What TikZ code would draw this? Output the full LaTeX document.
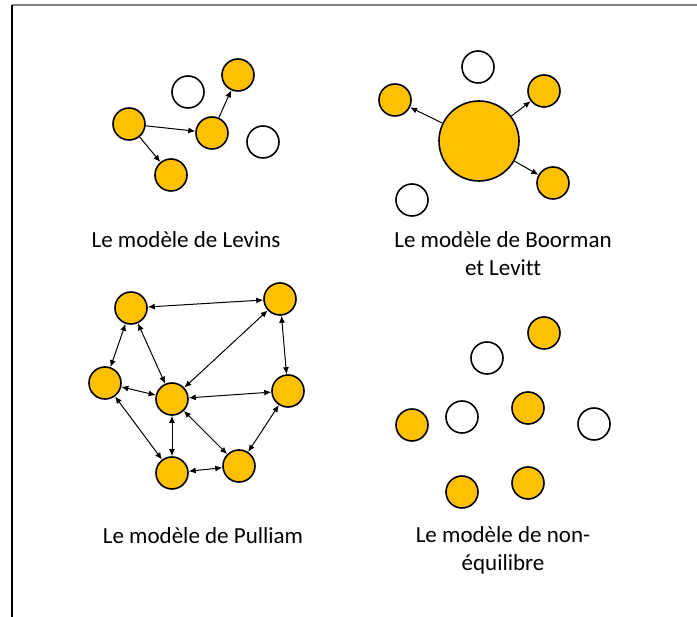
\documentclass[tikz,border=0pt]{standalone}
\usepackage{fontspec}
\setmainfont{Carlito}[Ligatures={NoCommon}]
\usetikzlibrary{arrows.meta}
\definecolor{gold}{HTML}{FFC000}
\definecolor{framegray}{HTML}{808080}
\tikzset{
  pop/.style={circle,draw=black,line width=1.6pt,fill=gold,minimum size=32pt,inner sep=0pt},
  empty/.style={circle,draw=black,line width=1.6pt,fill=white,minimum size=32pt,inner sep=0pt},
  big/.style={circle,draw=black,line width=1.6pt,fill=gold,minimum size=80pt,inner sep=0pt},
  link/.style={line width=1pt,-{Latex[length=7pt,width=6pt]}},
  blink/.style={line width=1pt,{Latex[length=7pt,width=6pt]}-{Latex[length=7pt,width=6pt]}},
  lbl/.style={font=\fontsize{23}{28}\selectfont,align=center,inner sep=0pt,anchor=base}
}
\begin{document}
\begin{tikzpicture}[x=1pt,y=-1pt]
\useasboundingbox (0,0) rectangle (697,617);
% frame
\coordinate (ftl) at (12,5.5);
\coordinate (ftr) at (697,5.5);
\coordinate (fbl) at (12,617);
\draw[framegray,line width=2pt] (ftl) -- (ftr);
\draw[black,line width=1.4pt] (12,5) -- (fbl);

% Levins
\node[pop] (la) at (129,124) {};
\node[empty] (lw1) at (188,92) {};
\node[pop] (lt) at (238,75) {};
\node[pop] (lm) at (212,133) {};
\node[empty] (lw2) at (263,142) {};
\node[pop] (lb) at (171,175) {};
\draw[link] (la) -- (lm);
\draw[link] (la) -- (lb);
\draw[link] (lm) -- (lt);
\node[lbl] (levins) at (186,248) {Le modèle de Levins};

% Boorman et Levitt
\node[empty] (bw1) at (478,67) {};
\node[pop] (bl) at (395,100) {};
\node[pop] (br1) at (544,91) {};
\node[big] (bc) at (479,141) {};
\node[pop] (br2) at (553,183) {};
\node[empty] (bw2) at (412,200) {};
\draw[link] (bc) -- (bl);
\draw[link] (bc) -- (br1);
\draw[link] (bc) -- (br2);
\node[lbl] (boorman) at (503,276) {Le modèle de Boorman\\et Levitt};

% Pulliam
\node[pop] (p1) at (131,308) {};
\node[pop] (p2) at (280,299) {};
\node[pop] (p3) at (105,383) {};
\node[pop] (p4) at (172,399) {};
\node[pop] (p5) at (288,391) {};
\node[pop] (p6) at (172,473) {};
\node[pop] (p7) at (239,466) {};
\draw[blink] (p1) -- (p2);
\draw[blink] (p1) -- (p3);
\draw[blink] (p1) -- (p4);
\draw[blink] (p2) -- (p4);
\draw[blink] (p2) -- (p5);
\draw[blink] (p3) -- (p4);
\draw[blink] (p3) -- (p6);
\draw[blink] (p4) -- (p5);
\draw[blink] (p4) -- (p6);
\draw[blink] (p4) -- (p7);
\draw[blink] (p6) -- (p7);
\draw[blink] (p7) -- (p5);
\node[lbl] (pulliam) at (203,544) {Le modèle de Pulliam};

% non-equilibre
\node[pop] (n1) at (544,333) {};
\node[empty] (n2) at (487,358) {};
\node[pop] (n3) at (412,425) {};
\node[empty] (n4) at (462,417) {};
\node[pop] (n5) at (528,408) {};
\node[empty] (n6) at (594,424) {};
\node[pop] (n7) at (462,492) {};
\node[pop] (n8) at (528,483) {};
\node[lbl] (noneq) at (503,571) {Le modèle de non-\\équilibre};
\end{tikzpicture}
\end{document}
